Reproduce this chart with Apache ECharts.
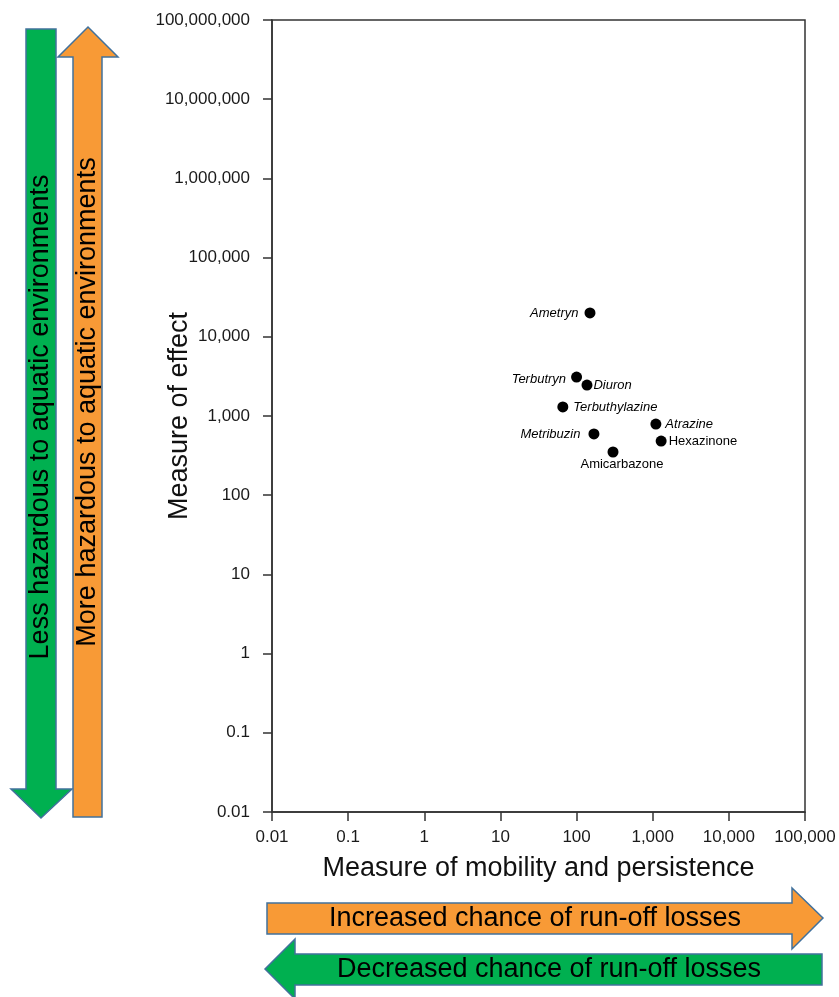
<!DOCTYPE html>
<html>
<head>
<meta charset="utf-8">
<script src="https://cdn.jsdelivr.net/npm/echarts@6/dist/echarts.min.js"></script>
<style>
  html, body { margin: 0; padding: 0; background: #fff; }
  #chart { width: 839px; height: 997px; }
</style>
</head>
<body>
<div id="chart"></div>
<script>
// herbicides: mobility/persistence (x) vs effect (y)
const names = ['Ametryn', 'Terbutryn', 'Diuron', 'Terbuthylazine', 'Atrazine', 'Hexazinone', 'Metribuzin', 'Amicarbazone']
const mobility = [150, 100, 137, 66, 1100, 1290, 169, 301]
const effect = [20000, 3100, 2460, 1300, 790, 483, 593, 351]

const xTicks = ['0.01', '0.1', '1', '10', '100', '1,000', '10,000', '100,000']
const yTicks = ['0.01', '0.1', '1', '10', '100', '1,000', '10,000', '100,000', '1,000,000', '10,000,000', '100,000,000']

const FONT = 'Liberation Sans, Arial, sans-serif'
const BORDER = '#41719C'
const GREEN = '#00B050'
const ORANGE = '#F89A36'

// where each label sits next to its dot
const labelCfg = {
  Ametryn: { position: 'left', distance: 6, fontStyle: 'italic' },
  Terbutryn: { position: 'left', distance: 5, offset: [0, 2], fontStyle: 'italic' },
  Diuron: { position: 'right', distance: 1, fontStyle: 'italic' },
  Terbuthylazine: { position: 'right', distance: 5, fontStyle: 'italic' },
  Atrazine: { position: 'right', distance: 4, fontStyle: 'italic' },
  Hexazinone: { position: 'right', distance: 2, fontStyle: 'normal' },
  Metribuzin: { position: 'left', distance: 8, fontStyle: 'italic' },
  Amicarbazone: { position: 'bottom', distance: 0, offset: [9, 0], fontStyle: 'normal' }
}

const tickText = (list) => (v) => {
  const i = Math.round(Math.log10(v)) + 2
  return list[i] !== undefined ? list[i] : ''
}

const chart = echarts.init(document.getElementById('chart'))

const points = names.map((n, i) => ({
  name: n,
  value: [mobility[i], effect[i]],
  label: Object.assign({ show: true, formatter: n, fontSize: 13, color: '#000', fontFamily: FONT }, labelCfg[n])
}))

const axisCommon = {
  type: 'log',
  logBase: 10,
  interval: 1,
  nameLocation: 'middle',
  nameMoveOverlap: false,
  nameTextStyle: { fontSize: 27, color: '#111', fontFamily: FONT },
  axisLine: { show: true, lineStyle: { color: '#333', width: 1.5 } },
  axisTick: { show: true, inside: false, length: 9, lineStyle: { color: '#333', width: 1.5 } },
  splitLine: { show: false },
  minorTick: { show: false }
}

const option = {
  animation: false,
  grid: {
    left: 272, right: 34, top: 20, bottom: 185,
    show: true, borderColor: '#333', borderWidth: 1.5, backgroundColor: 'transparent'
  },
  xAxis: Object.assign({}, axisCommon, {
    min: 0.01, max: 100000,
    name: 'Measure of mobility and persistence',
    nameGap: 43,
    axisLabel: { fontSize: 17, color: '#1a1a1a', fontFamily: FONT, margin: 17, formatter: tickText(xTicks) }
  }),
  yAxis: Object.assign({}, axisCommon, {
    min: 0.01, max: 100000000,
    name: 'Measure of effect',
    nameGap: 79,
    axisLabel: { fontSize: 17, color: '#1a1a1a', fontFamily: FONT, margin: 22, formatter: tickText(yTicks) }
  }),
  series: [{
    type: 'scatter',
    symbol: 'circle',
    symbolSize: 11,
    itemStyle: { color: '#000', opacity: 1 },
    data: points
  }],
  graphic: [
    // left: green down arrow
    { type: 'polygon', shape: { points: [[26, 29], [56, 29], [56, 789], [72, 789], [41, 818], [11, 789], [26, 789]] },
      style: { fill: GREEN, stroke: BORDER, lineWidth: 1.5 } },
    // left: orange up arrow
    { type: 'polygon', shape: { points: [[73, 817], [102, 817], [102, 57], [118, 57], [88, 27], [58, 57], [73, 57]] },
      style: { fill: ORANGE, stroke: BORDER, lineWidth: 1.5 } },
    { type: 'text', x: 41, y: 417, rotation: Math.PI / 2,
      style: { text: 'Less hazardous to aquatic environments', fontSize: 27, fontFamily: FONT, fill: '#000', textAlign: 'center', textVerticalAlign: 'middle' } },
    { type: 'text', x: 88, y: 402, rotation: Math.PI / 2,
      style: { text: 'More hazardous to aquatic environments', fontSize: 27, fontFamily: FONT, fill: '#000', textAlign: 'center', textVerticalAlign: 'middle' } },
    // bottom: orange right arrow
    { type: 'polygon', shape: { points: [[267, 903], [792, 903], [792, 888], [823, 918], [792, 949], [792, 934], [267, 934]] },
      style: { fill: ORANGE, stroke: BORDER, lineWidth: 1.5 } },
    // bottom: green left arrow
    { type: 'polygon', shape: { points: [[822, 954], [295, 954], [295, 939], [265, 969], [295, 999], [295, 985], [822, 985]] },
      style: { fill: GREEN, stroke: BORDER, lineWidth: 1.5 } },
    { type: 'text', x: 535, y: 919,
      style: { text: 'Increased chance of run-off losses', fontSize: 27, fontFamily: FONT, fill: '#000', textAlign: 'center', textVerticalAlign: 'middle' } },
    { type: 'text', x: 549, y: 970,
      style: { text: 'Decreased chance of run-off losses', fontSize: 27, fontFamily: FONT, fill: '#000', textAlign: 'center', textVerticalAlign: 'middle' } }
  ]
}

chart.setOption(option)
</script>
</body>
</html>
